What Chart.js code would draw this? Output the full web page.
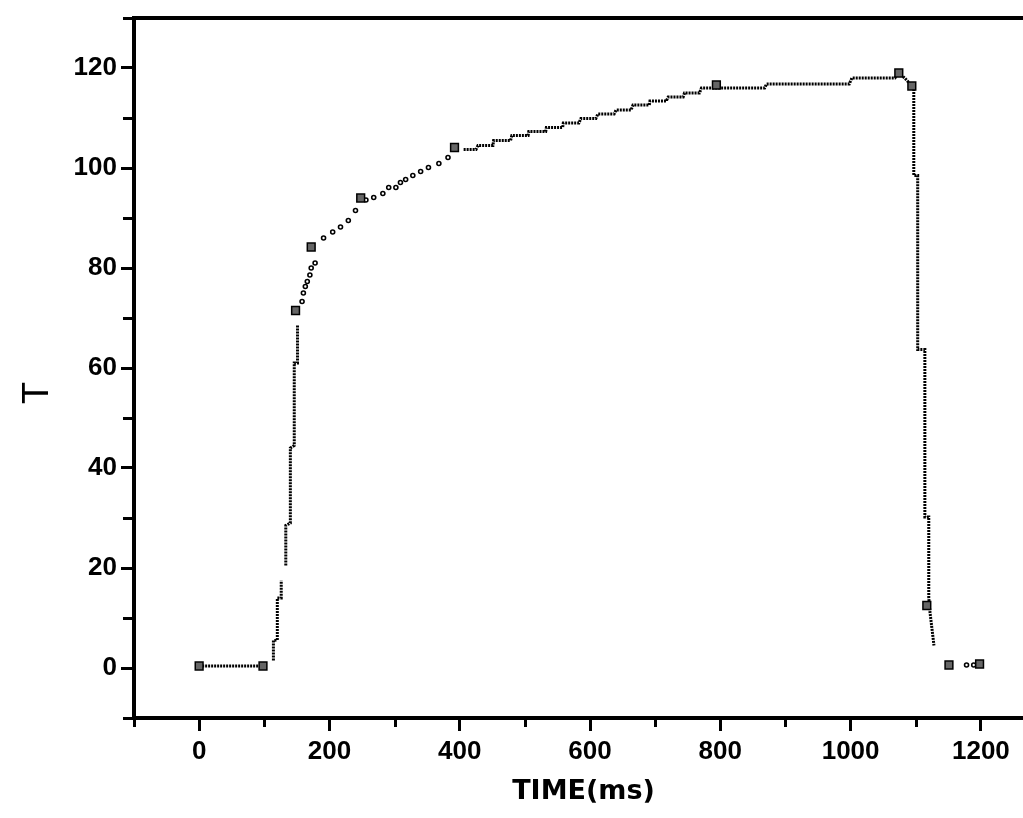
<!DOCTYPE html>
<html>
<head>
<meta charset="utf-8">
<script src="https://cdn.jsdelivr.net/npm/chart.js@4.4.1/dist/chart.umd.min.js"></script>
<style>
  html, body { margin: 0; padding: 0; background: #fff; overflow: hidden; }
  #wrap { width: 1023px; height: 818px; overflow: hidden; }
  canvas { display: block; }
</style>
</head>
<body>
<div id="wrap"><canvas id="c" width="1040" height="818"></canvas></div>
<script>
// ---- data ----
// stepped runs of the recorded trace (null = visible gap)
const timeRun = [0, 98, 106, 114, 114, 120, 120, 126, 126, 130, 133, 133, 140, 140, 146, 146, 151, 151, 280,
  406, 425, 428, 451, 452, 478, 480, 505, 506, 532, 533, 558, 559, 583, 586, 609, 612, 637, 640, 663, 666, 691,
  692, 717, 720, 743, 745, 768, 771, 782, 794, 868, 871, 998, 1002, 1068, 1074, 1083, 1094,
  1097, 1097, 1103, 1103, 1114, 1114, 1120, 1120, 1122, 1128];
const valueRun = [0.4, 0.4, null, 1.5, 5.5, 5.6, 14, 14, 17.5, null, 20.5, 28.5, 29, 44, 44.5, 61, 61, 68.5, null,
  103.7, 103.7, 104.5, 104.5, 105.5, 105.5, 106.5, 106.5, 107.3, 107.3, 108.1, 108.1, 109, 109, 109.9, 109.9, 110.8,
  110.8, 111.6, 111.6, 112.6, 112.6, 113.4, 113.4, 114.2, 114.2, 115, 115, 116, 116, 116, 116, 116.8, 116.8, 118,
  118, 119, 118, 116.4, 116.4, 98.5, 98.5, 63.7, 63.7, 30.2, 30.2, 14, 11, 4.5];
// isolated small markers
const timeDots = [158, 160, 163, 166, 170, 172, 178, 191, 205, 217, 229, 240, 256, 268, 282, 291, 302, 309, 317,
  328, 340, 352, 368, 382, 1178, 1189];
const valueDots = [73.3, 75, 76.3, 77.3, 78.6, 80, 81, 86, 87.2, 88.2, 89.5, 91.5, 93.6, 94.1, 94.9, 96.1, 96.1,
  97.1, 97.7, 98.5, 99.3, 100.1, 100.9, 102.1, 0.6, 0.6];
// large square markers
const timeSquares = [0, 98, 148, 172, 248, 392, 794, 1074, 1094, 1117, 1151, 1198];
const valueSquares = [0.4, 0.4, 71.5, 84.2, 94, 104.1, 116.6, 119, 116.4, 12.5, 0.6, 0.8];

// axes
const xTickValues = [0, 200, 400, 600, 800, 1000, 1200];
const xTickLabels = ['0', '200', '400', '600', '800', '1000', '1200'];
const xMinorTicks = [-100, 100, 300, 500, 700, 900, 1100, 1300];
const yTickValues = [0, 20, 40, 60, 80, 100, 120];
const yTickLabels = ['0', '20', '40', '60', '80', '100', '120'];
const yMinorTicks = [-10, 10, 30, 50, 70, 90, 110, 130];
const xTitle = 'TIME(ms)';
const yTitle = 'T';

const pts = (xs, ys) => xs.map((x, i) => ({ x: x, y: ys[i] }));

const framePlugin = {
  id: 'frame',
  afterDraw(chart) {
    const { ctx, chartArea: a, scales: { x, y } } = chart;
    ctx.save();
    ctx.strokeStyle = '#000';
    ctx.lineCap = 'butt';
    // top and right frame lines
    ctx.lineWidth = 4;
    ctx.beginPath();
    ctx.moveTo(a.left - 2, a.top);
    ctx.lineTo(a.right, a.top);
    ctx.lineTo(a.right, a.bottom);
    ctx.stroke();
    // minor ticks
    ctx.lineWidth = 3;
    ctx.beginPath();
    xMinorTicks.forEach(v => {
      const px = Math.round(x.getPixelForValue(v)) + 0.5;
      if (px > a.right) return;
      ctx.moveTo(px, a.bottom);
      ctx.lineTo(px, a.bottom + 9);
    });
    yMinorTicks.forEach(v => {
      const py = Math.round(y.getPixelForValue(v)) + 0.5;
      ctx.moveTo(a.left, py);
      ctx.lineTo(a.left - 11, py);
    });
    ctx.stroke();
    // y axis title
    ctx.fillStyle = '#000';
    ctx.font = '36px "Liberation Sans", Arial, sans-serif';
    ctx.textAlign = 'center';
    ctx.textBaseline = 'middle';
    ctx.translate(36, y.getPixelForValue(55));
    ctx.rotate(-Math.PI / 2);
    ctx.fillText(yTitle, 0, 2);
    ctx.restore();
  }
};

new Chart(document.getElementById('c'), {
  type: 'line',
  data: {
    datasets: [
      {
        label: 'squares',
        data: pts(timeSquares, valueSquares),
        showLine: false,
        pointStyle: 'rect',
        pointRadius: 5.5,
        pointBorderWidth: 1.5,
        pointBorderColor: '#000',
        pointBackgroundColor: '#666'
      },
      {
        label: 'dots',
        data: pts(timeDots, valueDots),
        showLine: false,
        pointStyle: 'circle',
        pointRadius: 2,
        pointBorderWidth: 1.6,
        pointBorderColor: '#000',
        pointBackgroundColor: '#fff'
      },
      {
        label: 'T',
        data: pts(timeRun, valueRun),
        borderColor: '#000',
        borderWidth: 3,
        borderDash: [2, 1],
        pointRadius: 0,
        spanGaps: false,
        tension: 0
      }
    ]
  },
  options: {
    responsive: false,
    animation: false,
    layout: { padding: { top: 18, right: 3, left: 0, bottom: 0 } },
    plugins: { legend: { display: false }, tooltip: { enabled: false } },
    scales: {
      x: {
        type: 'linear',
        min: -100,
        max: 1280,
        afterBuildTicks: s => { s.ticks = xTickValues.map(v => ({ value: v })); },
        afterFit: s => { s.height = 100; },
        grid: { drawOnChartArea: false, drawTicks: true, tickLength: 13, lineWidth: 3, color: '#000' },
        border: { display: true, width: 4, color: '#000' },
        ticks: {
          color: '#000',
          padding: 5,
          maxRotation: 0,
          autoSkip: false,
          font: { family: '"Liberation Sans", Arial, sans-serif', size: 26, weight: 'bold' },
          callback: v => xTickLabels[xTickValues.indexOf(v)]
        },
        title: {
          display: true,
          text: xTitle,
          color: '#000',
          font: { family: '"DejaVu Sans", sans-serif', size: 27, weight: 'bold' },
          padding: { top: 0, bottom: 10 }
        }
      },
      y: {
        type: 'linear',
        min: -10,
        max: 130,
        afterBuildTicks: s => { s.ticks = yTickValues.map(v => ({ value: v })); },
        afterFit: s => { s.width = 134; s.paddingTop = 0; s.paddingBottom = 0; },
        grid: { drawOnChartArea: false, drawTicks: true, tickLength: 13, lineWidth: 3, color: '#000' },
        border: { display: true, width: 4, color: '#000' },
        ticks: {
          color: '#000',
          padding: 4,
          autoSkip: false,
          font: { family: '"Liberation Sans", Arial, sans-serif', size: 26, weight: 'bold' },
          callback: v => yTickLabels[yTickValues.indexOf(v)]
        }
      }
    }
  },
  plugins: [framePlugin]
});
</script>
</body>
</html>
